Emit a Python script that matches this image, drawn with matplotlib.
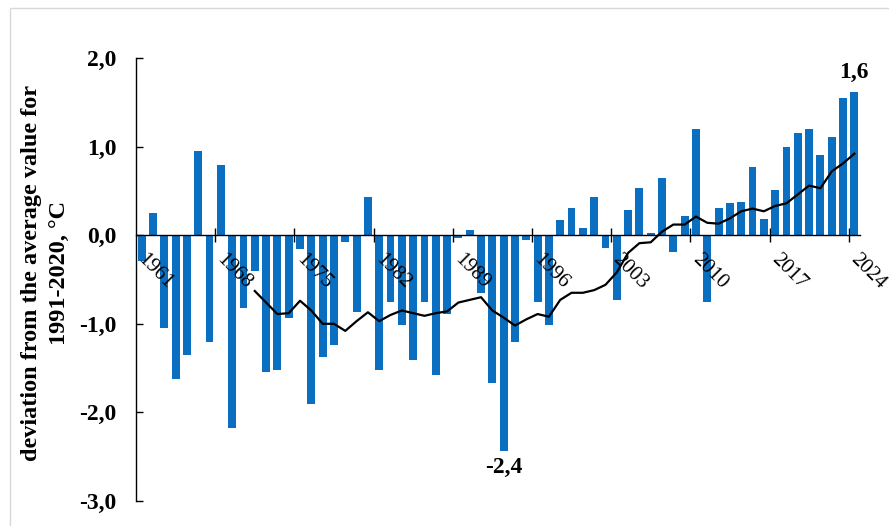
"""Annual temperature anomaly relative to 1991-2020 with 11-year running mean"""
import matplotlib.pyplot as plt
from matplotlib.patches import Rectangle

years = list(range(1961, 2025))

anomaly = [
    -0.29, 0.25, -1.05, -1.62, -1.35, 0.95, -1.21, 0.79, -2.18, -0.82,
    -0.40, -1.54, -1.52, -0.93, -0.16, -1.90, -1.37, -1.24, -0.08, -0.87,
    0.43, -1.52, -0.75, -1.01, -1.41, -0.75, -1.58, -0.89, -0.03, 0.06,
    -0.65, -1.67, -2.44, -1.20, -0.05, -0.75, -1.01, 0.17, 0.31, 0.08,
    0.43, -0.14, -0.73, 0.29, 0.53, 0.03, 0.65, -0.19, 0.22, 1.20,
    -0.75, 0.31, 0.36, 0.37, 0.77, 0.18, 0.51, 0.99, 1.15, 1.20,
    0.91, 1.11, 1.55, 1.62,
]

# running mean, available from 1971 on
mean_years = list(range(1971, 2025))
running_mean = [
    -0.63, -0.76, -0.89, -0.88, -0.74, -0.85, -1.00, -1.00, -1.08, -0.97,
    -0.87, -0.97, -0.90, -0.85, -0.88, -0.91, -0.88, -0.86, -0.76, -0.73,
    -0.70, -0.85, -0.93, -1.02, -0.95, -0.89, -0.92, -0.73, -0.65, -0.65,
    -0.62, -0.56, -0.42, -0.20, -0.09, -0.08, 0.04, 0.12, 0.12, 0.21,
    0.14, 0.13, 0.19, 0.27, 0.30, 0.27, 0.33, 0.36, 0.46, 0.56,
    0.53, 0.72, 0.81, 0.92,
]

label_years = [1961, 1968, 1975, 1982, 1989, 1996, 2003, 2010, 2017, 2024]
y_ticks = [-3, -2, -1, 0, 1, 2]
y_tick_labels = ['-3,0', '-2,0', '-1,0', '0,0', '1,0', '2,0']
marked_years = [1993, 2024]

plt.rcParams['font.family'] = ['Liberation Serif', 'DejaVu Serif']

fig = plt.figure(figsize=(8.89, 5.26), dpi=100)
ax = fig.add_axes([136 / 889, 1 - 501 / 526, 724 / 889, 443 / 526])

# faint outer frame
fig.patches.append(Rectangle((10 / 889, -0.1), 1.1, 1.1 - 8 / 526,
                             transform=fig.transFigure, fill=False,
                             edgecolor='#d8d8d8', linewidth=1.0, zorder=0))

pos = [y - years[0] for y in years]
ax.bar(pos, anomaly, width=0.7, color='#0a6fc1', zorder=2)

mpos = [y - years[0] for y in mean_years]
ax.plot(mpos, running_mean, color='black', linewidth=1.6, zorder=3)

ax.set_xlim(-0.5, len(years) - 0.5)
ax.set_ylim(-3, 2)

# category axis through zero, ticks between groups of seven years
ax.spines['top'].set_visible(False)
ax.spines['right'].set_visible(False)
ax.spines['bottom'].set_position(('data', 0))
ax.spines['bottom'].set_zorder(4)
ax.spines['left'].set_linewidth(1.0)
ax.spines['bottom'].set_linewidth(1.0)
ax.set_xticks([p + 6.5 for p in range(0, len(years) - 1, 7)])
ax.set_xticklabels([])
ax.tick_params(axis='x', direction='inout', length=10, width=1.0)

for y in label_years:
    ax.text(y - years[0] - 0.1, -0.24, str(y), rotation=-45,
            rotation_mode='anchor', ha='left', va='center', fontsize=15,
            zorder=5)

ax.set_yticks(y_ticks)
ax.set_yticklabels(y_tick_labels, fontsize=17, fontweight='bold')
ax.tick_params(axis='y', direction='in', length=5, width=1.0, pad=14)

for y in marked_years:
    v = anomaly[y - years[0]]
    txt = f'{v:.1f}'.replace('.', ',')
    if v > 0:
        ax.text(y - years[0], v + 0.1, txt, ha='center', va='bottom',
                fontsize=17, fontweight='bold')
    else:
        ax.text(y - years[0], v - 0.06, txt, ha='center', va='top',
                fontsize=17, fontweight='bold')

fig.text(46 / 889, 1 - 273 / 526,
         'deviation from the average value for\n1991-2020, °C',
         rotation=90, ha='center', va='center', multialignment='center',
         fontsize=17.5, fontweight='bold', linespacing=1.5)

fig.savefig('out.png', dpi=100)
